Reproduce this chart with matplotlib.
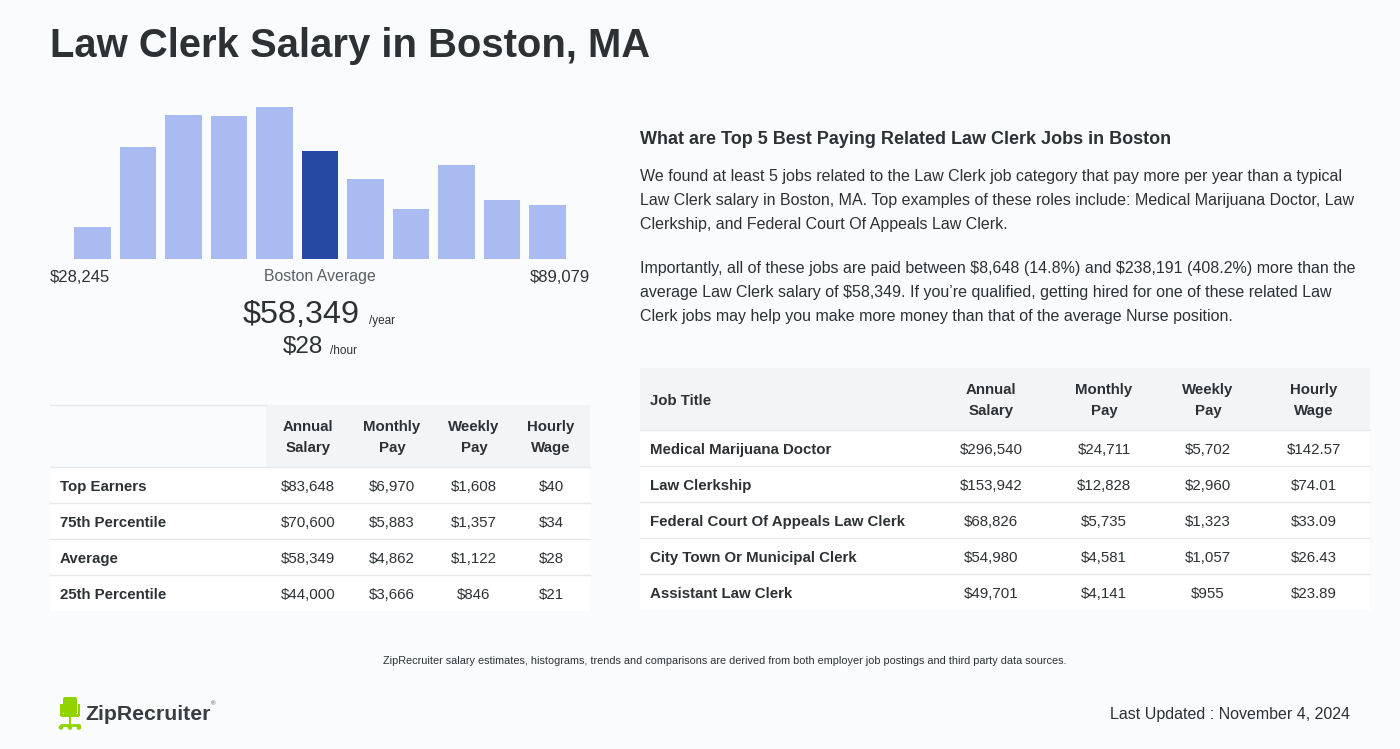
import matplotlib
matplotlib.use("Agg")
import matplotlib.pyplot as plt
from matplotlib.patches import Rectangle, FancyBboxPatch

plt.rcParams['font.family'] = ['Liberation Sans', 'DejaVu Sans']
plt.rcParams['text.parse_math'] = False

# ---------------- data ----------------
title = "Law Clerk Salary in Boston, MA"
hist_values = [32, 112, 144, 143, 152, 108, 80, 50, 94, 59, 54]
highlight_bin = 5
range_low = "$28,245"
range_high = "$89,079"
avg_year = "$58,349"
avg_hour = "$28"

left_cols = ["Annual\nSalary", "Monthly\nPay", "Weekly\nPay", "Hourly\nWage"]
left_rows = ["Top Earners", "75th Percentile", "Average", "25th Percentile"]
left_vals = [
    ["$83,648", "$6,970", "$1,608", "$40"],
    ["$70,600", "$5,883", "$1,357", "$34"],
    ["$58,349", "$4,862", "$1,122", "$28"],
    ["$44,000", "$3,666", "$846", "$21"],
]

right_cols = ["Annual\nSalary", "Monthly\nPay", "Weekly\nPay", "Hourly\nWage"]
right_rows = ["Medical Marijuana Doctor", "Law Clerkship",
              "Federal Court Of Appeals Law Clerk", "City Town Or Municipal Clerk",
              "Assistant Law Clerk"]
right_vals = [
    ["$296,540", "$24,711", "$5,702", "$142.57"],
    ["$153,942", "$12,828", "$2,960", "$74.01"],
    ["$68,826", "$5,735", "$1,323", "$33.09"],
    ["$54,980", "$4,581", "$1,057", "$26.43"],
    ["$49,701", "$4,141", "$955", "$23.89"],
]

heading = "What are Top 5 Best Paying Related Law Clerk Jobs in Boston"
para1 = ["We found at least 5 jobs related to the Law Clerk job category that pay more per year than a typical",
         "Law Clerk salary in Boston, MA. Top examples of these roles include: Medical Marijuana Doctor, Law",
         "Clerkship, and Federal Court Of Appeals Law Clerk."]
para2 = ["Importantly, all of these jobs are paid between $8,648 (14.8%) and $238,191 (408.2%) more than the",
         "average Law Clerk salary of $58,349. If you\u2019re qualified, getting hired for one of these related Law",
         "Clerk jobs may help you make more money than that of the average Nurse position."]
footnote = "ZipRecruiter salary estimates, histograms, trends and comparisons are derived from both employer job postings and third party data sources."
updated = "Last Updated : November 4, 2024"

# ---------------- style ----------------
BG = "#fafbfd"
TXT = "#2d3133"
LIGHT = "#a9bbf1"
DARK = "#264aa3"
HDR = "#f3f4f6"
LINE = "#e6e8eb"
W, H = 1400, 749
TFS = 10.8  # table font size

fig = plt.figure(figsize=(14, 7.49), dpi=100, facecolor=BG)
ax = fig.add_axes([0, 0, 1, 1])
ax.set_xlim(0, W)
ax.set_ylim(H, 0)
ax.axis("off")

ax.text(50, 46, title, fontsize=28.8, fontweight="bold", color=TXT, va="center", ha="left")

# ---------------- histogram ----------------
px0, px1 = 69.75, 570.25
base, top = 259, 95
hax = fig.add_axes([px0 / W, (H - base) / H, (px1 - px0) / W, (base - top) / H])
hax.set_xlim(-0.5, len(hist_values) - 0.5)
hax.set_ylim(0, base - top)
hax.axis("off")
colors = [DARK if i == highlight_bin else LIGHT for i in range(len(hist_values))]
hax.bar(range(len(hist_values)), hist_values, width=0.81, color=colors)

ax.text(50, 277, range_low, fontsize=12, color=TXT, ha="left", va="center")
ax.text(590, 277, range_high, fontsize=12, color=TXT, ha="right", va="center")
ax.text(320, 277, "Boston Average", fontsize=11.4, color="#5b5f62", ha="center", va="center")
ax.text(360, 315, avg_year, fontsize=23.3, color=TXT, ha="right", va="center")
ax.text(369, 321, "/year", fontsize=8.5, color=TXT, ha="left", va="center")
ax.text(323, 347, avg_hour, fontsize=17.5, color=TXT, ha="right", va="center")
ax.text(330, 351, "/hour", fontsize=8.5, color=TXT, ha="left", va="center")

# ---------------- left table ----------------
lx0, lx1 = 50, 590
hy0, hy1 = 405, 467
rh = 36
ax.add_patch(Rectangle((266, hy0), lx1 - 266, hy1 - hy0, facecolor=HDR, edgecolor="none"))
ax.plot([lx0, 266], [hy0, hy0], color=LINE, lw=1)
lcol_x = [308, 392, 474, 551]
for cx, lab in zip(lcol_x, left_cols):
    l1, l2 = lab.split("\n")
    ax.text(cx, 427, l1, fontsize=TFS, fontweight="bold", color=TXT, ha="center", va="center")
    ax.text(cx, 448, l2, fontsize=TFS, fontweight="bold", color=TXT, ha="center", va="center")
for i, (rname, vals) in enumerate(zip(left_rows, left_vals)):
    y0 = hy1 + i * rh
    ax.add_patch(Rectangle((lx0, y0), lx1 - lx0, rh, facecolor="white", edgecolor="none"))
    ax.plot([lx0, lx1], [y0, y0], color=LINE, lw=1)
    yc = y0 + rh / 2 + 2
    ax.text(60, yc, rname, fontsize=TFS, fontweight="bold", color=TXT, ha="left", va="center")
    for cx, v in zip(lcol_x, vals):
        ax.text(cx, yc, v, fontsize=TFS, color=TXT, ha="center", va="center")

# ---------------- right text ----------------
ax.text(640, 139, heading, fontsize=13, fontweight="bold", color=TXT, ha="left", va="center")
for k, line in enumerate(para1):
    ax.text(640, 176 + 24 * k, line, fontsize=11.5, color=TXT, ha="left", va="center")
for k, line in enumerate(para2):
    ax.text(640, 269 + 24 * k, line, fontsize=11.5, color=TXT, ha="left", va="center")

# ---------------- right table ----------------
rx0, rx1 = 640, 1370
ry0, ry1 = 368, 430
ax.add_patch(Rectangle((rx0, ry0), rx1 - rx0, ry1 - ry0, facecolor=HDR, edgecolor="none"))
rcol_x = [991, 1104, 1208, 1314]
ax.text(650, 401, "Job Title", fontsize=TFS, fontweight="bold", color=TXT, ha="left", va="center")
for cx, lab in zip(rcol_x, right_cols):
    l1, l2 = lab.split("\n")
    ax.text(cx, 390, l1, fontsize=TFS, fontweight="bold", color=TXT, ha="center", va="center")
    ax.text(cx, 411, l2, fontsize=TFS, fontweight="bold", color=TXT, ha="center", va="center")
for i, (rname, vals) in enumerate(zip(right_rows, right_vals)):
    y0 = ry1 + i * rh
    ax.add_patch(Rectangle((rx0, y0), rx1 - rx0, rh, facecolor="white", edgecolor="none"))
    ax.plot([rx0, rx1], [y0, y0], color=LINE, lw=1)
    yc = y0 + rh / 2 + 2
    ax.text(650, yc, rname, fontsize=TFS, fontweight="bold", color=TXT, ha="left", va="center")
    for cx, v in zip(rcol_x, vals):
        ax.text(cx, yc, v, fontsize=TFS, color=TXT, ha="center", va="center")

# ---------------- footer ----------------
ax.text(725, 661, footnote, fontsize=7.85, color=TXT, ha="center", va="center")
ax.text(1350, 715, updated, fontsize=11.5, color=TXT, ha="right", va="center")

# logo: chair icon
G = "#8fd400"
ax.add_patch(FancyBboxPatch((63, 697), 14, 17, boxstyle="round,pad=0,rounding_size=2",
                            facecolor=G, edgecolor="none"))
ax.add_patch(Rectangle((60, 704), 2.5, 12, facecolor=G, edgecolor="none"))
ax.add_patch(Rectangle((77.5, 704), 2.5, 12, facecolor=G, edgecolor="none"))
ax.add_patch(Rectangle((61, 714), 18, 3, facecolor=G, edgecolor="none"))
ax.add_patch(Rectangle((68.8, 717), 2.4, 7, facecolor=G, edgecolor="none"))
ax.plot([61, 79], [725, 725], color=G, lw=2, solid_capstyle="round")
for xw in (61, 70, 79):
    ax.add_patch(plt.Circle((xw, 727.5), 1.6, color=G))
ax.text(85, 714, "ZipRecruiter", fontsize=15.3, fontweight="bold", color="#3a3d40",
        ha="left", va="center")
ax.text(213, 704, "\u00ae", fontsize=4.5, color="#3a3d40", ha="center", va="center")

fig.savefig("out.png", dpi=100, facecolor=BG)
